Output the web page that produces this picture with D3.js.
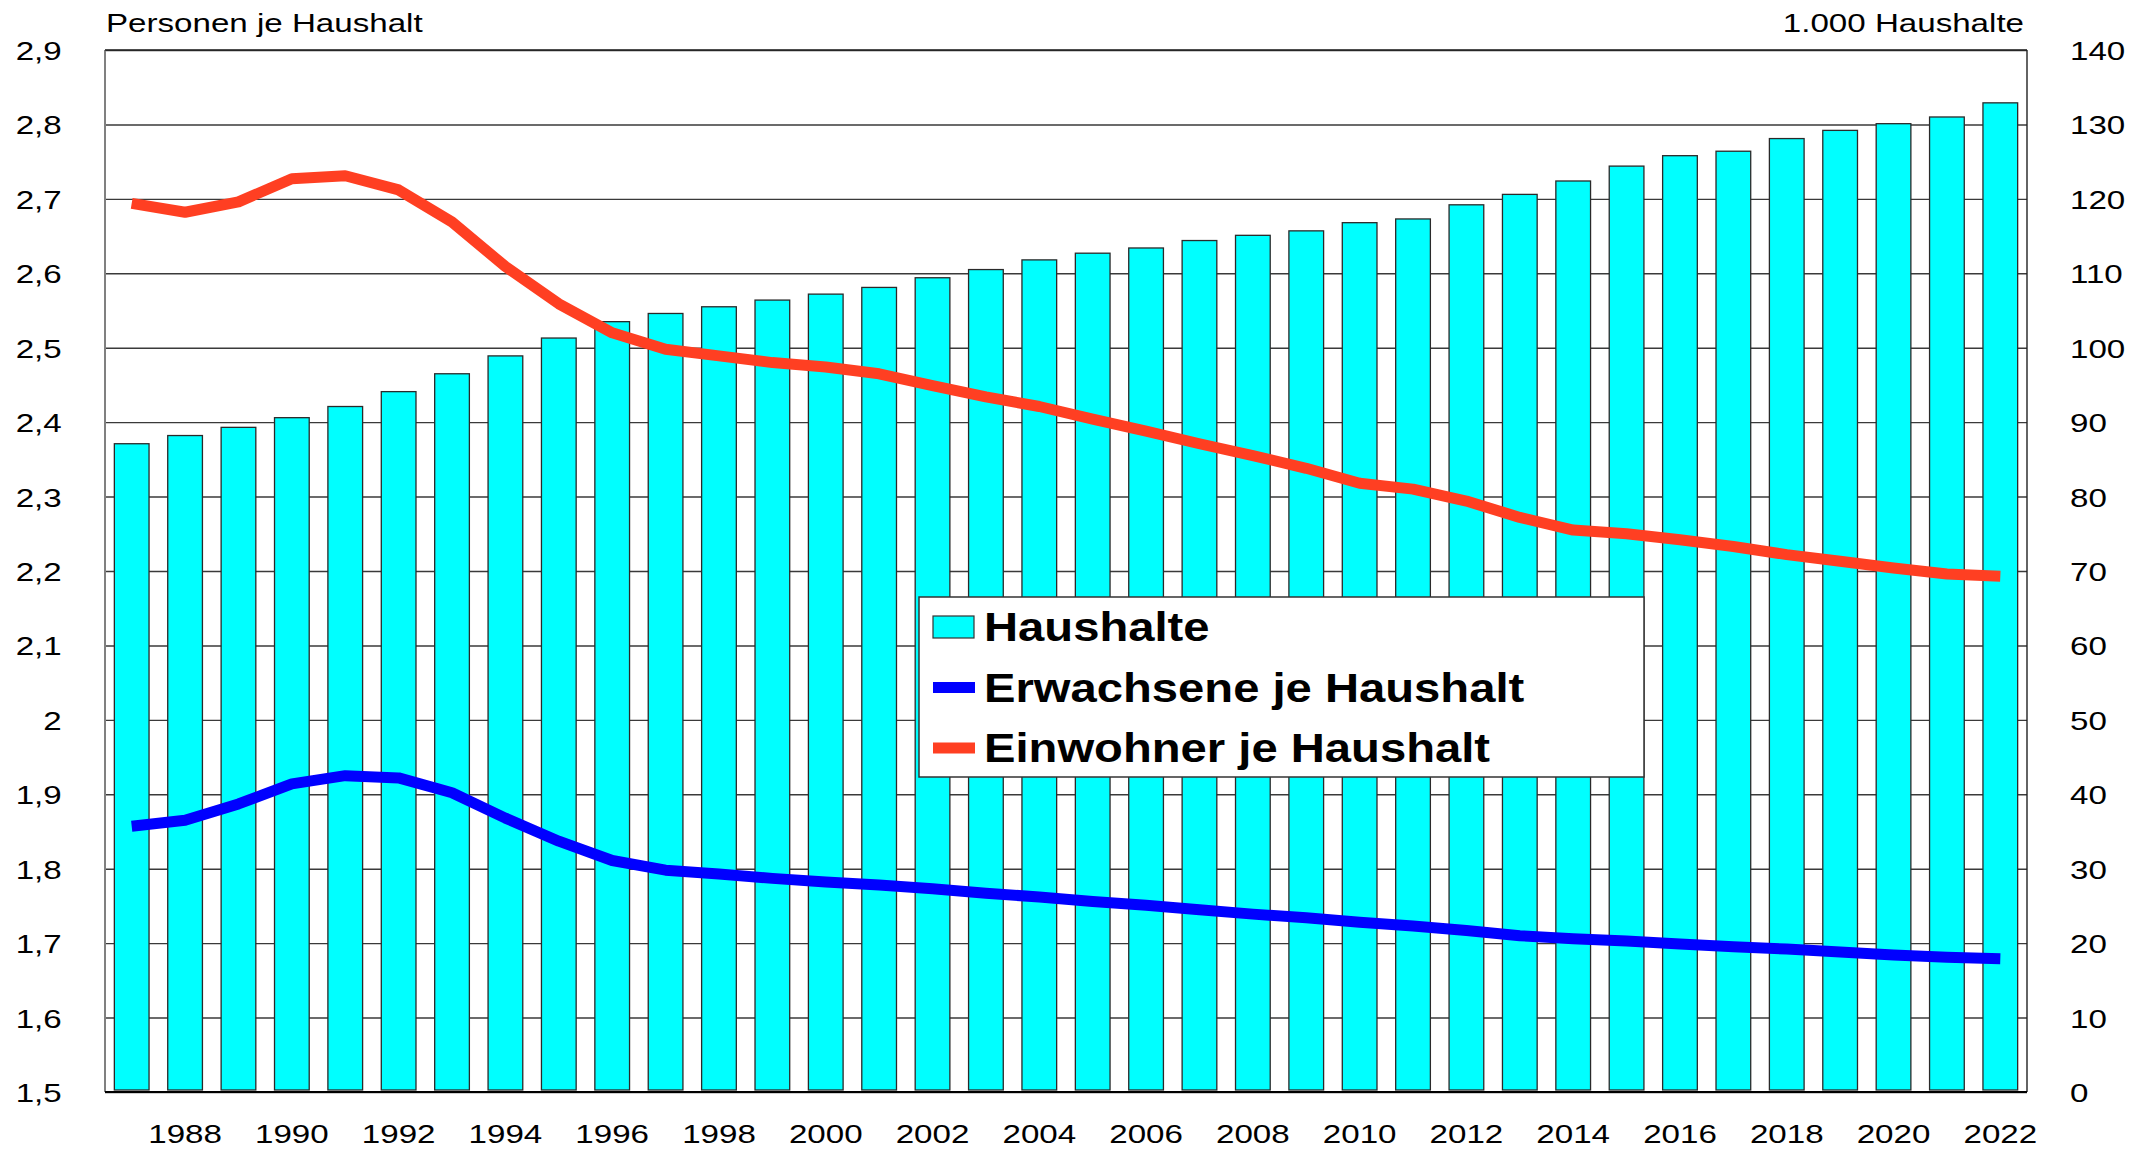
<!DOCTYPE html>
<html>
<head>
<meta charset="utf-8">
<script src="https://cdn.jsdelivr.net/npm/d3@7/dist/d3.min.js"></script>
<style>
    body { margin: 0; background: #fff; }
    svg { display: block; font-family: "Liberation Sans", Arial, sans-serif; }
</style>
</head>
<body>
<div id="chart"></div>
<script>
const years = [1987, 1988, 1989, 1990, 1991, 1992, 1993, 1994, 1995, 1996, 1997, 1998,
    1999, 2000, 2001, 2002, 2003, 2004, 2005, 2006, 2007, 2008, 2009, 2010,
    2011, 2012, 2013, 2014, 2015, 2016, 2017, 2018, 2019, 2020, 2021, 2022]

// 1.000 Haushalte (rechte Achse)
const haushalte = [87.1, 88.2, 89.3, 90.6, 92.1, 94.1, 96.5, 98.9, 101.3, 103.5, 104.6, 105.5,
    106.4, 107.2, 108.1, 109.4, 110.5, 111.8, 112.7, 113.4, 114.4, 115.1, 115.7, 116.8,
    117.3, 119.2, 120.6, 122.4, 124.4, 125.8, 126.4, 128.1, 129.2, 130.1, 131.0, 132.9]

// Personen je Haushalt (linke Achse)
const erwachsene = [1.857, 1.865, 1.887, 1.914, 1.925, 1.922, 1.902, 1.868, 1.837, 1.811, 1.798, 1.793,
    1.787, 1.782, 1.778, 1.773, 1.767, 1.762, 1.756, 1.751, 1.745, 1.739, 1.734, 1.728,
    1.723, 1.717, 1.710, 1.706, 1.703, 1.699, 1.695, 1.692, 1.688, 1.684, 1.681, 1.679]

const einwohner = [2.694, 2.682, 2.696, 2.727, 2.731, 2.712, 2.669, 2.609, 2.559, 2.520, 2.498, 2.489,
    2.480, 2.474, 2.465, 2.449, 2.434, 2.421, 2.404, 2.388, 2.371, 2.355, 2.338, 2.318,
    2.310, 2.294, 2.272, 2.255, 2.250, 2.242, 2.233, 2.222, 2.213, 2.204, 2.196, 2.193]

const leftTicks = [1.5, 1.6, 1.7, 1.8, 1.9, 2.0, 2.1, 2.2, 2.3, 2.4, 2.5, 2.6, 2.7, 2.8, 2.9]
const leftTickLabels = ["1,5", "1,6", "1,7", "1,8", "1,9", "2", "2,1", "2,2", "2,3", "2,4", "2,5", "2,6", "2,7", "2,8", "2,9"]
const rightTicks = [0, 10, 20, 30, 40, 50, 60, 70, 80, 90, 100, 110, 120, 130, 140]
const xTickYears = [1988, 1990, 1992, 1994, 1996, 1998, 2000, 2002, 2004, 2006, 2008, 2010,
    2012, 2014, 2016, 2018, 2020, 2022]

const seriesNames = ["Haushalte", "Erwachsene je Haushalt", "Einwohner je Haushalt"]
const seriesColors = ["#00ffff", "#0000ff", "#ff3f22"]

class ComboChart {
    constructor(_config) {
        this.config = {
            parentElement: _config.parentElement,
            containerWidth: 2150,
            containerHeight: 1149,
            margin: { top: 50, right: 123, bottom: 57, left: 105 },
            textStretch: 1.25,
            legendStretch: 1.18
        }
        this.initVis()
    }

    initVis() {
        var vis = this
        var cfg = vis.config

        cfg.visWidth = cfg.containerWidth - cfg.margin.left - cfg.margin.right
        cfg.visHeight = cfg.containerHeight - cfg.margin.top - cfg.margin.bottom

        vis.xScale = d3.scaleBand()
            .domain(years)
            .range([0, cfg.visWidth])
            .paddingInner(0.35)
            .paddingOuter(0.175)
        vis.yLeft = d3.scaleLinear()
            .domain([1.5, 2.9])
            .range([cfg.visHeight, 0])
        vis.yRight = d3.scaleLinear()
            .domain([0, 140])
            .range([cfg.visHeight, 0])

        vis.svg = d3.select(cfg.parentElement).append("svg")
            .attr("width", cfg.containerWidth)
            .attr("height", cfg.containerHeight)

        vis.chart = vis.svg.append("g")
            .attr("transform", `translate(${cfg.margin.left},${cfg.margin.top})`)

        vis.renderVis()
    }

    renderVis() {
        var vis = this
        var cfg = vis.config
        var bw = vis.xScale.bandwidth()

        // gridlines
        vis.chart.append("g")
            .attr("class", "grid")
            .call(d3.axisLeft(vis.yLeft).tickValues(leftTicks).tickSize(-cfg.visWidth).tickFormat(""))
            .call(g => g.select(".domain").remove())
            .call(g => g.selectAll("line").attr("stroke", "#3a3a3a").attr("stroke-width", 1.4))

        // bars
        vis.chart.selectAll(".bar")
            .data(haushalte)
            .join("rect")
                .attr("class", "bar")
                .attr("x", (d, i) => vis.xScale(years[i]))
                .attr("y", d => vis.yRight(d))
                .attr("width", bw)
                .attr("height", d => cfg.visHeight - 2 - vis.yRight(d))
                .attr("fill", seriesColors[0])
                .attr("stroke", "#2a2a2a")
                .attr("stroke-width", 1.3)

        // lines
        var line = d3.line()
            .x((d, i) => vis.xScale(years[i]) + bw / 2)
            .y(d => vis.yLeft(d))
        ;[erwachsene, einwohner].forEach(function (series, k) {
            vis.chart.append("path")
                .datum(series)
                .attr("fill", "none")
                .attr("stroke", seriesColors[k + 1])
                .attr("stroke-width", 11)
                .attr("stroke-linejoin", "round")
                .attr("d", line)
        })

        // frame
        vis.chart.append("line")
            .attr("x1", 0).attr("x2", 0).attr("y1", 0).attr("y2", cfg.visHeight)
            .attr("stroke", "#808080").attr("stroke-width", 2)
        vis.chart.append("line")
            .attr("x1", 0).attr("x2", cfg.visWidth).attr("y1", 0).attr("y2", 0)
            .attr("stroke", "#222").attr("stroke-width", 1.6)
        vis.chart.append("line")
            .attr("x1", cfg.visWidth).attr("x2", cfg.visWidth).attr("y1", 0).attr("y2", cfg.visHeight)
            .attr("stroke", "#222").attr("stroke-width", 1.4)
        vis.chart.append("line")
            .attr("x1", 0).attr("x2", cfg.visWidth).attr("y1", cfg.visHeight).attr("y2", cfg.visHeight)
            .attr("stroke", "#000").attr("stroke-width", 2)

        // axes
        var s = cfg.textStretch
        vis.chart.append("g")
            .attr("class", "axis y-left")
            .call(d3.axisLeft(vis.yLeft).tickValues(leftTicks).tickSize(0).tickPadding(43.3 / s)
                .tickFormat((d, i) => leftTickLabels[i]))
            .call(g => g.select(".domain").remove())
            .call(g => g.selectAll("text")
                .attr("font-size", 26.5).attr("fill", "#000").attr("dy", "0.36em")
                .attr("font-family", "Liberation Sans, Arial, sans-serif")
                .attr("transform", `scale(${s},1)`))

        vis.chart.append("g")
            .attr("class", "axis y-right")
            .attr("transform", `translate(${cfg.visWidth},0)`)
            .call(d3.axisRight(vis.yRight).tickValues(rightTicks).tickSize(0).tickPadding(43 / s))
            .call(g => g.select(".domain").remove())
            .call(g => g.selectAll("text")
                .attr("font-size", 26.5).attr("fill", "#000").attr("dy", "0.36em")
                .attr("font-family", "Liberation Sans, Arial, sans-serif")
                .attr("transform", `scale(${s},1)`))

        vis.chart.append("g")
            .attr("class", "axis x-axis")
            .attr("transform", `translate(0,${cfg.visHeight})`)
            .call(d3.axisBottom(vis.xScale).tickValues(xTickYears).tickSize(0))
            .call(g => g.select(".domain").remove())
            .call(g => g.selectAll("text")
                .attr("font-size", 26.5).attr("fill", "#000").attr("y", 51).attr("dy", 0)
                .attr("font-family", "Liberation Sans, Arial, sans-serif")
                .attr("transform", `scale(${s},1)`))

        // axis titles
        vis.svg.append("text")
            .attr("transform", `translate(106,31.5) scale(${s},1)`)
            .attr("font-size", 26.5)
            .text("Personen je Haushalt")
        vis.svg.append("text")
            .attr("transform", `translate(2024,31.5) scale(${s},1)`)
            .attr("text-anchor", "end")
            .attr("font-size", 26.5)
            .text("1.000 Haushalte")

        // legend
        var legend = vis.svg.append("g")
            .attr("class", "legend")
            .attr("transform", "translate(919,597)")
        legend.append("rect")
            .attr("width", 725).attr("height", 180)
            .attr("fill", "#fff").attr("stroke", "#333").attr("stroke-width", 1.5)

        var items = legend.selectAll(".item")
            .data(seriesNames)
            .join("g")
                .attr("class", "item")
                .attr("transform", (d, i) => `translate(0,${44 + i * 60.5})`)
        items.each(function (d, i) {
            var g = d3.select(this)
            if (i === 0) {
                g.append("rect")
                    .attr("x", 14).attr("y", -25).attr("width", 41).attr("height", 22)
                    .attr("fill", seriesColors[0]).attr("stroke", "#333").attr("stroke-width", 1.2)
            } else {
                g.append("line")
                    .attr("x1", 14).attr("x2", 56).attr("y1", -14).attr("y2", -14)
                    .attr("stroke", seriesColors[i]).attr("stroke-width", 11)
            }
            g.append("text")
                .attr("transform", `translate(65,0) scale(${cfg.legendStretch},1)`)
                .attr("font-size", 40)
                .attr("font-weight", "bold")
                .text(d)
        })
    }
}

new ComboChart({ parentElement: "#chart" })
</script>
</body>
</html>
